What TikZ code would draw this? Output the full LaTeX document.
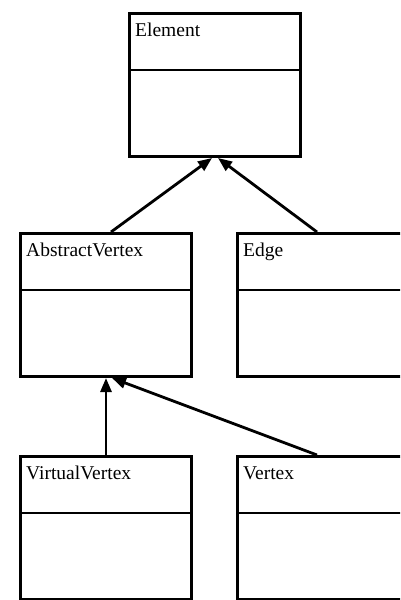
\documentclass[tikz,border=0pt]{standalone}
\usepackage{fontspec}
\setmainfont{Liberation Serif}
\usetikzlibrary{arrows.meta,calc}
\begin{document}
\begin{tikzpicture}[x=1pt,y=-1pt,line join=miter]
        % Styles
        \tikzstyle{class box}=[draw,line width=3pt,anchor=north west,minimum width=171pt,minimum height=143pt,inner sep=0pt]
        \tikzstyle{class name}=[anchor=base west,inner sep=0pt,font=\fontsize{19.5}{22}\selectfont]
        \tikzstyle{divider}=[line width=2.2pt]
        \tikzstyle{inherits}=[line width=2.8pt,-{Triangle[length=14pt,width=11pt]}]
        %The graphic
        \useasboundingbox (0,0) rectangle (400,600);
        \clip (0,0) rectangle (400,600);
        %classes
        \node[class box] (element) at (128,12) {};
        \node[class box] (abstract) at (19,232) {};
        \node[class box] (edge) at (236,232) {};
        \node[class box] (virtual) at (19,455) {};
        \node[class box] (vertex) at (236,455) {};
        \foreach \c/\ctext in {element/Element,abstract/AbstractVertex,edge/Edge,virtual/VirtualVertex,vertex/Vertex}
        {
            \node[class name] (\c-name) at ($(\c.north west)+(7,24)$) {\ctext};
            \draw[divider] ($(\c.north west)+(0,58)$) -- ($(\c.north east)+(0,58)$);
        }
        %generalisations
        \draw[inherits] ([xshift=5pt]abstract.north) -- ([xshift=-3pt]element.south);
        \draw[inherits] ([xshift=-6pt]edge.north) -- ([xshift=3pt]element.south);
        \draw[inherits] (virtual.north) -- (abstract.south);
        \draw[inherits] ([xshift=-6pt]vertex.north) -- ([xshift=6pt]abstract.south);
\end{tikzpicture}
\end{document}
